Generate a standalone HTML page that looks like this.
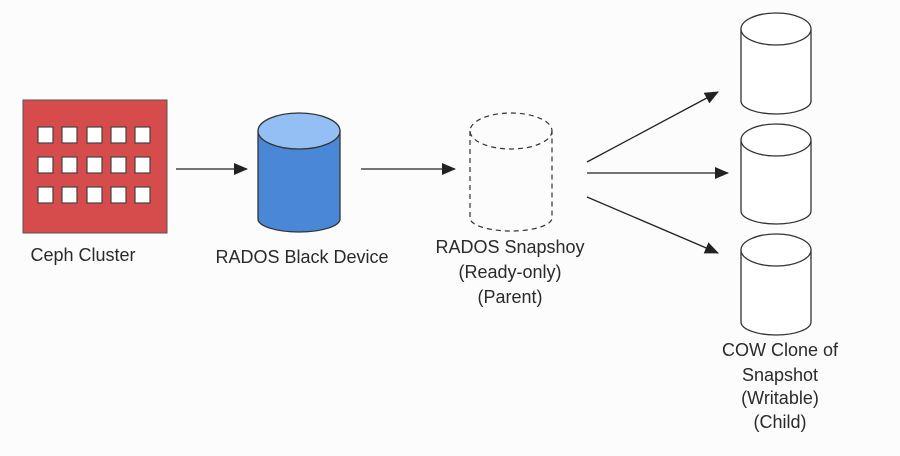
<!DOCTYPE html>
<html><head><style>html,body{margin:0;padding:0;background:#fcfcfc;}svg{display:block}</style></head>
<body>
<svg width="900" height="456" viewBox="0 0 900 456" xmlns="http://www.w3.org/2000/svg" font-family="Liberation Sans, sans-serif" font-size="18" fill="#2a2a2a">
<defs><marker id="a" markerWidth="16" markerHeight="14" refX="13" refY="6" orient="auto" markerUnits="userSpaceOnUse"><path d="M0,0 L14,6 L0,12 z" fill="#222"/></marker></defs>
<rect x="0" y="0" width="900" height="456" fill="#fcfcfc"/>
<rect x="23" y="100" width="144" height="133" fill="#d64c4c" stroke="#555" stroke-width="1"/>
<g fill="#fff" stroke="#444" stroke-width="1.2">
<rect x="38" y="127" width="15" height="16"/><rect x="62" y="127" width="15" height="16"/><rect x="87" y="127" width="15" height="16"/><rect x="111" y="127" width="15" height="16"/><rect x="135" y="127" width="15" height="16"/>
<rect x="38" y="157" width="15" height="16"/><rect x="62" y="157" width="15" height="16"/><rect x="87" y="157" width="15" height="16"/><rect x="111" y="157" width="15" height="16"/><rect x="135" y="157" width="15" height="16"/>
<rect x="38" y="187" width="15" height="16"/><rect x="62" y="187" width="15" height="16"/><rect x="87" y="187" width="15" height="16"/><rect x="111" y="187" width="15" height="16"/><rect x="135" y="187" width="15" height="16"/>
</g>
<g stroke="#333" stroke-width="1.3">
<path d="M258,131 L258,219 A41,13 0 0 0 340,219 L340,131 Z" fill="#4a87d6"/>
<ellipse cx="299" cy="131" rx="41" ry="18" fill="#94bff5"/>
</g>
<g stroke="#333" stroke-width="1.2" fill="none" stroke-dasharray="5,4">
<ellipse cx="511" cy="131" rx="41" ry="18"/>
<path d="M470,131 L470,218 A41,13 0 0 0 552,218 L552,131"/>
</g>
<g stroke="#333" stroke-width="1.3" fill="#fff">
<path d="M741,29 L741,101 A35,13 0 0 0 811,101 L811,29"/><ellipse cx="776" cy="29" rx="35" ry="16"/>
<path d="M741,140 L741,211 A35,13 0 0 0 811,211 L811,140"/><ellipse cx="776" cy="140" rx="35" ry="16"/>
<path d="M741,250 L741,322 A35,13 0 0 0 811,322 L811,250"/><ellipse cx="776" cy="250" rx="35" ry="16"/>
</g>
<g stroke="#222" stroke-width="1.3" marker-end="url(#a)">
<line x1="176" y1="169" x2="247" y2="169"/>
<line x1="361" y1="169" x2="455" y2="169"/>
<line x1="587" y1="162" x2="718" y2="92"/>
<line x1="587" y1="173" x2="728" y2="173"/>
<line x1="587" y1="197" x2="718" y2="253"/>
</g>
<g text-anchor="middle">
<text x="83" y="261">Ceph Cluster</text>
<text x="302" y="263">RADOS Black Device</text>
<text x="510" y="253">RADOS Snapshoy</text>
<text x="510" y="278">(Ready-only)</text>
<text x="510" y="303">(Parent)</text>
<text x="780" y="356">COW Clone of</text>
<text x="780" y="381">Snapshot</text>
<text x="780" y="404">(Writable)</text>
<text x="780" y="428">(Child)</text>
</g>
</svg>
</body></html>
